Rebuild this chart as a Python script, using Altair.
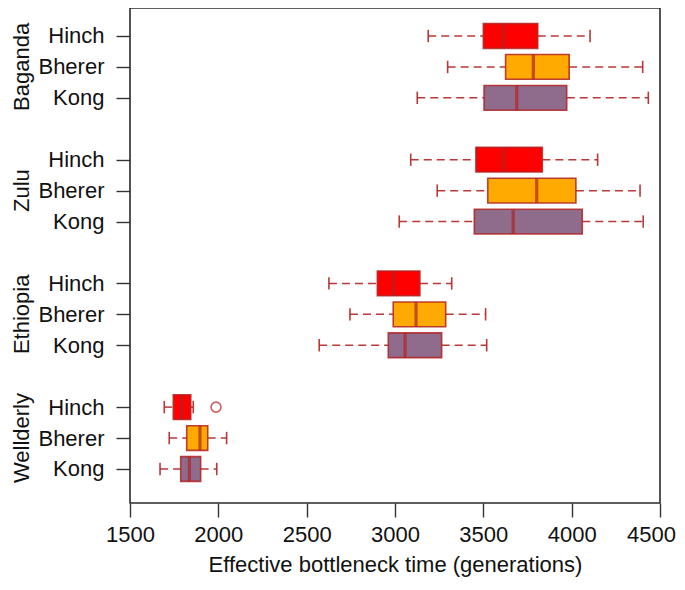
import altair as alt
import pandas as pd

groups = ["Baganda", "Zulu", "Ethiopia", "Wellderly"]
methods = ["Hinch", "Bherer", "Kong"]
method_colors = ["#FF0000", "#FFAA00", "#8F6B8C"]

# one entry per (group, method), in the order of groups x methods
whisker_low = [3188, 3298, 3126, 3089, 3239, 3024, 2626, 2745, 2571, 1694, 1722, 1670]
q1 = [3500, 3626, 3504, 3458, 3525, 3449, 2900, 2990, 2962, 1745, 1821, 1787]
median = [3613, 3783, 3689, 3613, 3802, 3669, 2990, 3119, 3057, 1793, 1896, 1836]
q3 = [3808, 3986, 3972, 3834, 4024, 4060, 3141, 3287, 3264, 1844, 1940, 1900]
whisker_high = [4104, 4402, 4434, 4147, 4387, 4405, 3321, 3513, 3519, 1858, 2047, 1991]

outlier_group = ["Wellderly"]
outlier_method = ["Hinch"]
outlier_value = [1987]

x_ticks = [1500, 2000, 2500, 3000, 3500, 4000, 4500]

rows = []
i = 0
for gi, g in enumerate(groups):
    for mi, m in enumerate(methods):
        rows.append(dict(group=g, method=m, pos=gi * 4 + mi + 1,
                         wl=whisker_low[i], q1=q1[i], med=median[i],
                         q3=q3[i], wh=whisker_high[i]))
        i += 1
df = pd.DataFrame(rows)

out_df = pd.DataFrame(dict(
    group=outlier_group, method=outlier_method, value=outlier_value,
    pos=[groups.index(g) * 4 + methods.index(m) + 1 for g, m in zip(outlier_group, outlier_method)],
))
grp_df = pd.DataFrame(dict(group=groups, pos=[gi * 4 + 2 for gi in range(len(groups))]))

border = "#B22222"
FONT = "Liberation Sans"

xscale = alt.Scale(domain=[1500, 4500], nice=False, zero=False)
yscale = alt.Scale(domain=[0.095, 16.1], nice=False, zero=False, reverse=True)

tick_positions = [gi * 4 + mi + 1 for gi in range(len(groups)) for mi in range(len(methods))]
label_expr = ("datum.value % 4 == 1 ? '" + methods[0] + "' : datum.value % 4 == 2 ? '"
              + methods[1] + "' : '" + methods[2] + "'")

xaxis = alt.Axis(values=x_ticks, title="Effective bottleneck time (generations)",
                 titlePadding=9, labelPadding=7, format="d", labelFlush=False,
                 labelOffset=alt.condition("datum.value == 4500", alt.value(-9), alt.value(0)))
yaxis = alt.Axis(values=tick_positions, labelExpr=label_expr, title=None, labelPadding=12)

base = alt.Chart(df)

whisk_lo = base.mark_rule(strokeDash=[8, 5], color=border, strokeWidth=1.5, opacity=0.9).encode(
    x=alt.X("wl:Q", scale=xscale, axis=xaxis), x2="q1:Q",
    y=alt.Y("pos:Q", scale=yscale, axis=yaxis))
whisk_hi = base.mark_rule(strokeDash=[8, 5], color=border, strokeWidth=1.5, opacity=0.9).encode(
    x=alt.X("q3:Q", scale=xscale), x2="wh:Q", y=alt.Y("pos:Q", scale=yscale))

caps = base.transform_fold(["wl", "wh"], as_=["end", "val"]).mark_tick(
    orient="vertical", size=12.4, thickness=1.6, color=border, opacity=0.9).encode(
    x=alt.X("val:Q", scale=xscale), y=alt.Y("pos:Q", scale=yscale))

boxes = base.transform_calculate(y0="datum.pos - 0.4", y1="datum.pos + 0.4").mark_rect(
    stroke=border, strokeWidth=1.6, strokeOpacity=0.85).encode(
    x=alt.X("q1:Q", scale=xscale), x2="q3:Q",
    y=alt.Y("y0:Q", scale=yscale), y2="y1:Q",
    fill=alt.Fill("method:N", scale=alt.Scale(domain=methods, range=method_colors), legend=None))

meds = base.mark_tick(orient="vertical", size=24.7, thickness=3.2, color=border).encode(
    x=alt.X("med:Q", scale=xscale), y=alt.Y("pos:Q", scale=yscale))

outs = alt.Chart(out_df).mark_point(shape="circle", filled=False, size=100,
                                    strokeWidth=1.6, color=border).encode(
    x=alt.X("value:Q", scale=xscale), y=alt.Y("pos:Q", scale=yscale))

glabels = alt.Chart(grp_df).mark_text(angle=270, align="center", baseline="middle",
                                      fontSize=22, font=FONT, color="#111").encode(
    x=alt.value(-108), y=alt.Y("pos:Q", scale=yscale), text="group:N")

chart = alt.layer(whisk_lo, whisk_hi, caps, boxes, meds, outs, glabels).properties(
    width=530, height=495,
    autosize=alt.AutoSizeParams(type="none"),
    padding={"left": 122, "top": 0, "right": 16, "bottom": 77},
).configure_view(
    stroke="#2a2a2a", strokeWidth=1.6
).configure_axis(
    domain=False, grid=False, tickColor="#333", tickSize=14, tickWidth=1.4,
    labelFont=FONT, labelFontSize=22, labelColor="#111",
    titleFont=FONT, titleFontSize=22, titleFontWeight="normal", titleColor="#111",
)

chart.save("out.html", embed_options={"renderer": "svg", "actions": False})
